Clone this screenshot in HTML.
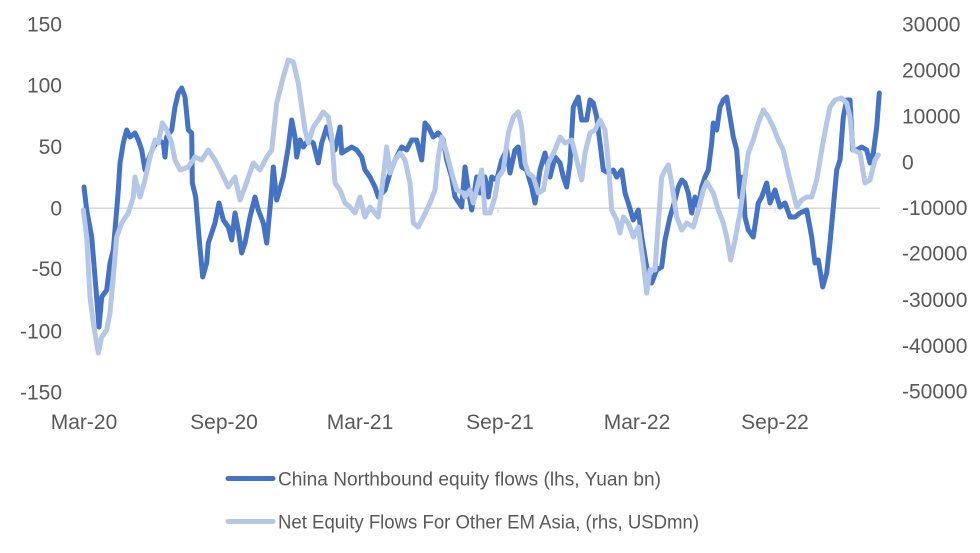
<!DOCTYPE html>
<html><head><meta charset="utf-8"><style>
html,body{margin:0;padding:0;background:#fff;}
svg{display:block;}
text{font-family:"Liberation Sans",sans-serif;fill:#595959;}
</style></head><body>
<svg width="980" height="553" viewBox="0 0 980 553" xmlns="http://www.w3.org/2000/svg">
<rect width="980" height="553" fill="#fff"/>
<line x1="82" y1="208.3" x2="880" y2="208.3" stroke="#d9d9d9" stroke-width="1.5"/>
<g stroke="#d9d9d9" stroke-width="1"><line x1="498" y1="208" x2="498" y2="213"/><line x1="775" y1="208" x2="775" y2="213"/></g>
<g font-size="21" text-anchor="end">
<text x="62" y="31.5">150</text>
<text x="62" y="92.5">100</text>
<text x="62" y="154">50</text>
<text x="62" y="215.5">0</text>
<text x="62" y="276">-50</text>
<text x="62" y="338.5">-100</text>
<text x="62" y="399.5">-150</text>
</g>
<g font-size="21" text-anchor="start">
<text x="902" y="31.5">30000</text>
<text x="902" y="77.5">20000</text>
<text x="902" y="123.5">10000</text>
<text x="902" y="169.5">0</text>
<text x="902" y="215">-10000</text>
<text x="902" y="260.5">-20000</text>
<text x="902" y="307">-30000</text>
<text x="902" y="353">-40000</text>
<text x="902" y="398.5">-50000</text>
</g>
<g font-size="21" text-anchor="middle">
<text x="84" y="429">Mar-20</text>
<text x="224" y="429">Sep-20</text>
<text x="360" y="429">Mar-21</text>
<text x="500" y="429">Sep-21</text>
<text x="637" y="429">Mar-22</text>
<text x="775" y="429">Sep-22</text>
</g>
<polyline fill="none" stroke="#4472C4" stroke-width="5" stroke-linejoin="round" stroke-linecap="round" points="84,187 86.7,210 91.7,237 95,277 99,327 101.7,297 106.7,290 110,263 113.3,250 116.7,210 118.3,190 120,163 123.3,143 126.7,130 130,137 135,133 138.3,140 141.7,150 145,170 148.3,160 153.3,147 158.3,140 163.3,143 165,157 166.7,137 171.7,130 175,107 178.3,93 181.7,88 185,97 188.3,130 191.7,133 192.3,183 195.7,197 199,237 202.7,277 206.7,263 208.3,243 211.7,233 215,223 219,203 223.3,220 228.3,227 231.7,240 235,213 238.3,230 241.7,253 245,243 250,217 255,197 258.3,210 263.3,223 266.7,243 271.7,190 273.3,167 276.7,200 283.3,177 288.3,147 291.7,120 295,137 296.7,157 300,140 303.3,147 308.3,140 313.3,143 318.3,163 321.7,143 326.7,127 330,137 335,150 340,127 341.7,153 346.7,150 351.7,147 356.7,150 361.7,157 365,170 370,177 375,187 378.3,197 385,190 390,173 395,160 401.7,147 406.7,150 411.7,140 416.7,140 421.7,160 425,123 428.3,127 433.3,137 438.3,133 443.3,140 446.7,160 451.7,177 455,197 461.7,207 465,167 468.3,190 471.7,210 476.7,177 480,193 485,177 488.3,197 491.7,177 496.7,180 501.7,160 506.7,150 510,173 515,150 518.3,147 521.7,167 526.7,170 531.7,187 535,203 540,170 545,153 550,177 555,157 560,163 563.3,177 566.7,187 570,163 573.3,107 578.3,97 581.7,120 586.7,120 590,100 593.3,103 596.7,117 600,143 603.3,170 608.3,173 613.3,170 616.7,177 621.7,170 625,193 628.3,203 633.3,220 638.3,210 641.7,237 646.7,267 651.7,283 656.7,270 661.7,267 665,240 670,217 675,200 678.3,187 681.7,180 685,183 688.3,193 691.7,213 695,197 698.3,207 701.7,187 705,177 708.3,170 711.7,143 713.3,123 716.7,130 720,107 723.3,100 726.7,97 730,117 733.3,137 736.7,150 740,197 742.7,177 745,217 748.3,230 753.3,237 758.3,203 761.7,197 766.7,183 770,203 775,190 780,207 785,203 790,217 795,217 800,213 806.7,210 811.7,237 815,263 818.3,260 822.7,287 826.7,273 830,243 833.3,207 836.7,170 840,160 843.3,117 846.7,100 850,100 852.7,150 856.7,150 861.7,147 866.7,150 870,163 873.3,153 876.7,127 879.3,93"/>
<polyline fill="none" stroke="#B4C7E7" stroke-width="5" stroke-linejoin="round" stroke-linecap="round" points="83.3,210 86.7,237 90,297 93.3,323 98.3,353 101.7,337 106.7,330 110,313 113.3,277 116.7,237 121.7,223 128.3,213 133.3,197 135,177 140,197 145,180 150,157 155,140 158.3,143 162.3,123 166.7,130 171.7,143 175,160 180,170 188.3,167 195,157 201.7,160 208.3,150 215,160 221.7,173 228.3,187 235,177 240,200 245,187 253.3,163 260,170 266.7,157 271.7,150 276.7,103 283.3,77 288.3,60 293.3,62 298.3,83 301.7,107 305,130 308.3,143 313.3,127 318.3,120 323.3,112 328.3,117 331.7,137 335,183 340,190 345,203 350,207 355,213 360,197 365,217 370,207 375,213 378.3,217 383.3,177 386.7,147 390,173 395,160 400,153 405,160 410,183 413.3,223 418.3,227 423.3,217 430,203 435,190 438.3,157 441.7,137 446.7,153 451.7,173 456.7,190 463.3,193 465,197 470,190 473.3,203 478.3,183 481.7,170 485,213 490,213 495,197 498.3,177 503.3,170 508.3,133 513.3,117 518.3,112 521.7,127 525,163 528.3,173 533.3,177 538.3,193 543.3,190 548.3,163 555,150 560,137 565,143 571.7,140 576.7,160 581.7,180 585,153 590,133 595,130 600,120 605,130 608.3,163 611.7,210 616.7,220 620,233 623.3,217 628.3,223 633.3,237 638.3,227 643.3,263 646.7,293 650,270 655,270 658.3,223 661.7,177 665,170 668.3,165 671.7,183 676.7,217 681.7,230 686.7,223 693.3,227 698.3,210 703.3,190 706.7,182 713.3,193 718.3,210 723.3,223 726.7,237 730.7,260 735,240 740,213 745,177 748.3,153 753.3,140 758.3,123 763.3,110 768.3,117 773.3,127 778.3,140 783.3,150 788.3,173 793.3,193 796.7,207 801.7,200 806.7,197 811.7,197 816.7,180 821.7,150 826.7,123 830,107 835,100 841.7,98 846.7,103 850,117 853.3,150 860,153 865,183 870,180 875,160 878.3,155"/>
<line x1="228" y1="478.5" x2="273" y2="478.5" stroke="#4472C4" stroke-width="5" stroke-linecap="round"/>
<line x1="228" y1="521.5" x2="273" y2="521.5" stroke="#B4C7E7" stroke-width="5" stroke-linecap="round"/>
<text x="278" y="485.5" font-size="19" textLength="383" lengthAdjust="spacingAndGlyphs">China Northbound equity flows (lhs, Yuan bn)</text>
<text x="278" y="528.5" font-size="19" textLength="421" lengthAdjust="spacingAndGlyphs">Net Equity Flows For Other EM Asia, (rhs, USDmn)</text>
</svg>
</body></html>
